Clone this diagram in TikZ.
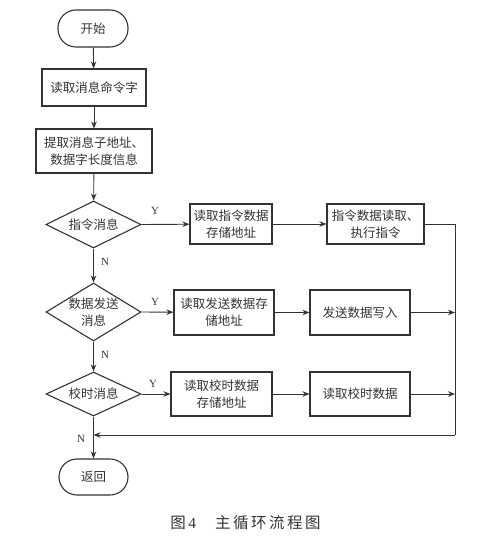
\documentclass[tikz,border=0pt]{standalone}
\usepackage{fontspec}
\setmainfont{Liberation Serif}
\newfontfamily\cjk{Noto Sans CJK SC}
\usetikzlibrary{arrows.meta,shapes.geometric}
\definecolor{ink}{HTML}{333333}
\begin{document}
\begin{tikzpicture}[x=1pt,y=-1pt,
  every node/.style={text=ink},
  box/.style={draw=ink,line width=1.1pt,rectangle,inner sep=0pt,align=center,font=\cjk\fontsize{12.5}{17}\selectfont},
  term/.style={draw=ink,line width=1.1pt,rectangle,rounded corners=18pt,minimum width=70pt,minimum height=37pt,font=\cjk\fontsize{12.5}{17}\selectfont},
  dia/.style={draw=ink,line width=1.1pt,diamond,inner sep=0pt,minimum width=95pt},
  dtext/.style={align=center,inner sep=0pt,font=\cjk\fontsize{12.5}{17}\selectfont},
  yn/.style={font=\fontsize{11}{12}\selectfont,inner sep=0pt},
  conn/.style={draw=ink,line width=0.9pt},
  arr/.style={conn,-{Stealth[length=7pt,width=5.5pt]}}
]
\useasboundingbox (0,0) rectangle (487,556);
% main column
\node[term] (start) at (93,28.5) {开始};
\node[box,minimum width=104pt,minimum height=37pt] (b1) at (94,87.5) {读取消息命令字};
\node[box,minimum width=116pt,minimum height=44pt] (b2) at (94,151) {提取消息子地址、\\数据字长度信息};
\node[dia,minimum height=47pt] (d1) at (93.5,224.5) {};
\node[dtext] (d1t) at (93.5,224.5) {指令消息};
\node[dia,minimum height=58pt] (d2) at (93.5,312) {};
\node[dtext] (d2t) at (93.5,312) {数据发送\\消息};
\node[dia,minimum height=44pt] (d3) at (93.5,394) {};
\node[dtext] (d3t) at (93.5,394) {校时消息};
\node[term,minimum width=69pt,minimum height=36pt] (ret) at (93.5,477) {返回};
% right boxes
\node[box,minimum width=82pt,minimum height=40pt] (i1) at (231,224) {读取指令数据\\存储地址};
\node[box,minimum width=97pt,minimum height=40pt] (i2) at (375.5,224) {指令数据读取、\\执行指令};
\node[box,minimum width=100pt,minimum height=45pt] (s1) at (224,312.5) {读取发送数据存\\储地址};
\node[box,minimum width=100pt,minimum height=45pt] (s2) at (360,312.5) {发送数据写入};
\node[box,minimum width=101pt,minimum height=44pt] (t1) at (221.5,394) {读取校时数据\\存储地址};
\node[box,minimum width=100pt,minimum height=44pt] (t2) at (360,394) {读取校时数据};
% loop coordinates
\coordinate (rt) at (455,224);
\coordinate (rs) at (455,312.5);
\coordinate (rtt) at (455,394);
\coordinate (rb) at (455,435);
\coordinate (lb) at (93.5,435);
% connectors
\draw[arr] (start) -- (b1);
\draw[arr] (b1) -- (b2);
\draw[arr] (b2) -- (d1);
\draw[arr] (d1) -- (d2);
\draw[arr] (d2) -- (d3);
\draw[arr] (d3) -- (ret);
\draw[arr] (d1.east) -- (i1);
\draw[arr] (i1) -- (i2);
\draw[arr] (d2.east) -- (s1);
\draw[arr] (s1) -- (s2);
\draw[arr] (d3.east) -- (t1);
\draw[arr] (t1) -- (t2);
\draw[conn] (i2.east) -- (rt) -- (rb);
\draw[arr] (s2.east) -- (rs);
\draw[arr] (t2.east) -- (rtt);
\draw[arr] (rb) -- (lb);
% labels
\node[yn] (y1) at (155,211) {Y};
\node[yn] (n1) at (105,262) {N};
\node[yn] (y2) at (155,302) {Y};
\node[yn] (n2) at (105,355) {N};
\node[yn] (y3) at (153,384) {Y};
\node[yn] (n3) at (81,439) {N};
% caption
\node[inner sep=0pt,text=ink,font=\fontsize{15.5}{17}\selectfont] (cap) at (245.5,523) {\cjk 图\,\rmfamily 4\hspace{19pt}\cjk 主\hspace{2.5pt}循\hspace{2.5pt}环\hspace{2.5pt}流\hspace{2.5pt}程\hspace{2.5pt}图};
\end{tikzpicture}
\end{document}
